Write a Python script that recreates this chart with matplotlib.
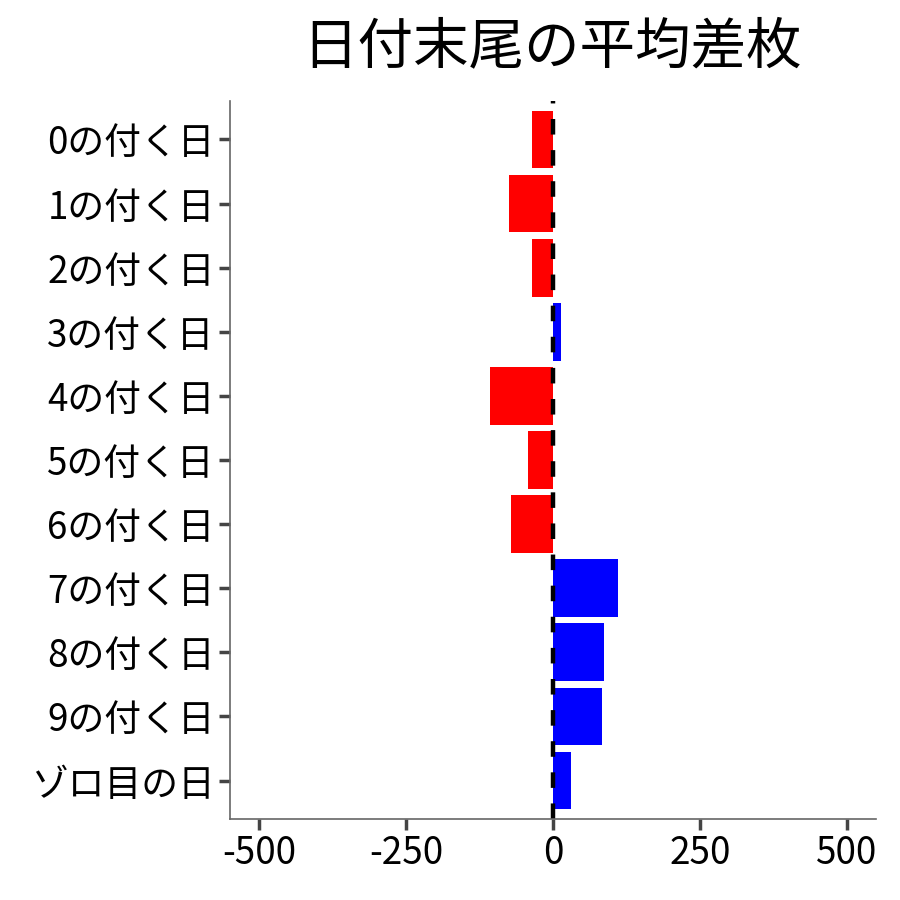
import numpy as np
import matplotlib
matplotlib.use("Agg")
import matplotlib.pyplot as plt

plt.rcParams['font.family'] = ['Noto Sans CJK JP', 'DejaVu Sans']

labels = ["0の付く日", "1の付く日", "2の付く日", "3の付く日", "4の付く日",
          "5の付く日", "6の付く日", "7の付く日", "8の付く日", "9の付く日", "ゾロ目の日"]
values = [-36, -75, -36, 14, -108, -43, -72, 111, 86, 83, 30]
xticks = [-500, -250, 0, 250, 500]

colors = ["#FF0000" if v < 0 else "#0000FF" for v in values]
y = np.arange(len(labels))[::-1]

fig = plt.figure(figsize=(9, 9), dpi=100)
ax = fig.add_axes([230 / 900, 81 / 900, 646 / 900, 718 / 900])

ax.barh(y, values, height=0.9, color=colors)
ax.axvline(0, color="black", lw=3.2, ls=(0, (3.5, 3.5)))

ax.set_xlim(-550, 550)
ax.set_ylim(-0.6, len(labels) - 0.4)
ax.set_xticks(xticks)
ax.set_xticklabels([str(t) for t in xticks])
ax.set_yticks(y)
ax.set_yticklabels(labels)
ax.tick_params(axis="both", labelsize=26.5, length=8, width=2.5, color="#444444",
               labelcolor="black", pad=3)

for s in ["top", "right"]:
    ax.spines[s].set_visible(False)
for s in ["left", "bottom"]:
    ax.spines[s].set_color("#666666")
    ax.spines[s].set_linewidth(1.2)

fig.text(552 / 900, 1 - 47 / 900, "日付末尾の平均差枚", ha="center", va="center", fontsize=40)

fig.savefig("out.png", dpi=100)
